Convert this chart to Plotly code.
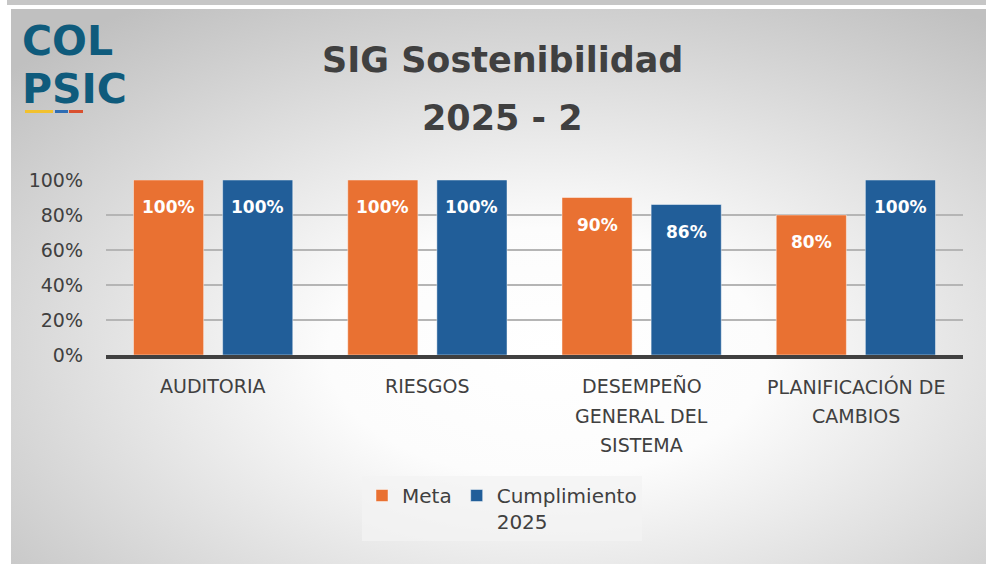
import base64
import plotly.graph_objects as go

# ---------------- data ----------------
categories = ["AUDITORIA", "RIESGOS", "DESEMPEÑO GENERAL DEL SISTEMA", "PLANIFICACIÓN DE CAMBIOS"]
category_lines = [["AUDITORIA"], ["RIESGOS"], ["DESEMPEÑO", "GENERAL DEL", "SISTEMA"], ["PLANIFICACIÓN DE", "CAMBIOS"]]
meta = [1.00, 1.00, 0.90, 0.80]
cumplimiento = [1.00, 1.00, 0.86, 1.00]
series_names = ["Meta", "Cumplimiento<br>2025"]
title_lines = ["SIG Sostenibilidad", "2025 - 2"]
y_ticks = [0, 0.2, 0.4, 0.6, 0.8, 1.0]

# ---------------- style ----------------
W, H = 986, 564
L, R, T, B = 106, 23, 180, 209
PW, PH = W - L - R, H - T - B
ORANGE = "#E97132"
BLUE = "#215E99"
TEXT = "#404040"
FONT = "DejaVu Sans"
LOGO = "#0F5B7C"


def px(x):
    return (x - L) / PW


def py(y):
    return (H - B - y) / PH


svg = (
    '<svg xmlns="http://www.w3.org/2000/svg" width="975" height="555" viewBox="0 0 975 555" preserveAspectRatio="none">'
    '<defs><radialGradient id="g" cx="0.55" cy="0.62" r="0.75">'
    '<stop offset="0" stop-color="#ffffff"/><stop offset="0.3" stop-color="#fcfcfc"/>'
    '<stop offset="1" stop-color="#c0c0c0"/></radialGradient></defs>'
    '<rect x="0" y="0" width="975" height="555" fill="url(#g)"/></svg>'
)
bg_src = "data:image/svg+xml;base64," + base64.b64encode(svg.encode()).decode()

fig = go.Figure()
fig.add_trace(go.Bar(x=categories, y=meta, name=series_names[0],
                     marker=dict(color=ORANGE, line=dict(color="rgba(255,255,255,0.45)", width=1))))
fig.add_trace(go.Bar(x=categories, y=cumplimiento, name=series_names[1],
                     marker=dict(color=BLUE, line=dict(color="rgba(255,255,255,0.45)", width=1))))

annotations = []
slot = PW / len(categories) * (1 - 0.168) / 2
for vals, sign in ((meta, -1), (cumplimiento, 1)):
    for c, v in zip(categories, vals):
        annotations.append(dict(x=c, y=v, xref="x", yref="y", text=f"<b>{v:.0%}</b>",
                                showarrow=False, xshift=sign * slot / 2, yshift=-27,
                                yanchor="middle",
                                font=dict(family=FONT, size=17, color="white")))
for c, lines in zip(categories, category_lines):
    for i, ln in enumerate(lines):
        annotations.append(dict(x=c, y=0, xref="x", yref="y", text=ln, showarrow=False,
                                yanchor="middle", yshift=-31 - 29.5 * i,
                                font=dict(family=FONT, size=19, color=TEXT)))
# title
for i, tl in enumerate(title_lines):
    annotations.append(dict(x=px(502), y=py(60 + 58 * i), xref="paper", yref="paper",
                            xanchor="center", yanchor="middle",
                            text=f"<b>{tl}</b>", showarrow=False,
                            font=dict(family=FONT, size=35, color=TEXT)))
# logo text
for txt, yc in (("COL", 41), ("PSIC", 89)):
    annotations.append(dict(x=px(20), y=py(yc), xref="paper", yref="paper",
                            xanchor="left", yanchor="middle",
                            text=f"<b>{txt}</b>", showarrow=False,
                            font=dict(family=FONT, size=41, color=LOGO)))

shapes = [
    dict(type="rect", xref="paper", yref="paper", x0=px(7), x1=px(986), y0=py(0), y1=py(5),
         line=dict(width=0), fillcolor="#c6c6c6", layer="below"),
    dict(type="rect", xref="paper", yref="paper", x0=px(25), x1=px(53), y0=py(110), y1=py(113),
         line=dict(width=0), fillcolor="#F2C12E"),
    dict(type="rect", xref="paper", yref="paper", x0=px(55), x1=px(68), y0=py(110), y1=py(113),
         line=dict(width=0), fillcolor="#2E6DB4"),
    dict(type="rect", xref="paper", yref="paper", x0=px(69), x1=px(83), y0=py(110), y1=py(113),
         line=dict(width=0), fillcolor="#D9502F"),
]

fig.update_layout(
    width=W, height=H,
    margin=dict(l=L, r=R, t=T, b=B, pad=0),
    paper_bgcolor="white", plot_bgcolor="rgba(0,0,0,0)",
    barmode="group", bargap=0.168, bargroupgap=0.213,
    font=dict(family=FONT, color=TEXT),
    showlegend=True,
    legend=dict(orientation="h", x=px(362), y=py(476), xanchor="left", yanchor="top",
                bgcolor="rgba(243,243,243,0.75)", valign="top",
                font=dict(family=FONT, size=20, color=TEXT), itemwidth=30,
                traceorder="normal"),
    images=[dict(source=bg_src, xref="paper", yref="paper", x=px(11), y=py(9),
                 sizex=(W - 11) / PW, sizey=(H - 9) / PH, sizing="stretch",
                 xanchor="left", yanchor="top", layer="below")],
    annotations=annotations,
    shapes=shapes,
)
fig.update_xaxes(showticklabels=False, showgrid=False, showline=True, linecolor=TEXT,
                 linewidth=4, ticks="", fixedrange=True)
fig.update_yaxes(range=[0, 1], tickvals=y_ticks, tickformat=".0%", showgrid=True,
                 gridcolor="#B5B5B5", gridwidth=1.5, zeroline=False, ticklabelstandoff=22,
                 tickfont=dict(family=FONT, size=19, color=TEXT), fixedrange=True)

fig.write_html("out.html", config={"displayModeBar": False},
               post_script="document.body.style.margin='0';document.body.style.overflow='hidden';")
